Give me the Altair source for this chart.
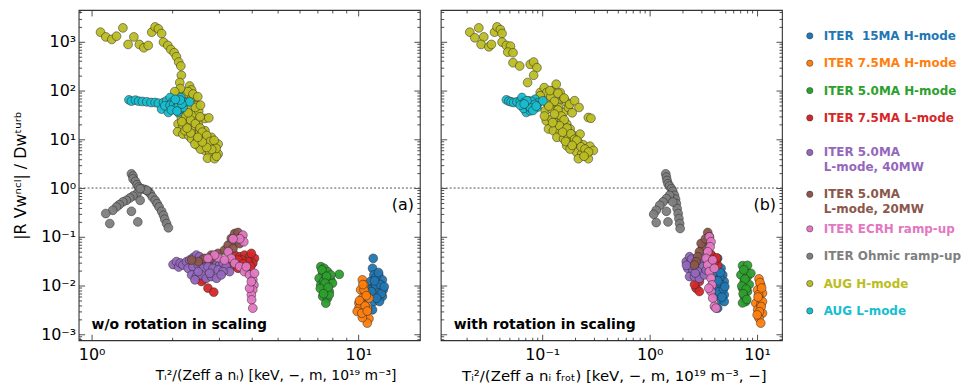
import altair as alt
import pandas as pd

# ---------------- categories / colours ----------------
SERIES = ["ITER\u00a0 15MA H-mode", "ITER 7.5MA H-mode", "ITER 5.0MA H-mode", "ITER 7.5MA L-mode",
          "ITER 5.0MA\nL-mode, 40MW", "ITER 5.0MA\nL-mode, 20MW", "ITER ECRH ramp-up",
          "ITER Ohmic ramp-up", "AUG H-mode", "AUG L-mode"]
COLORS = ["#1f77b4", "#ff7f0e", "#2ca02c", "#d62728", "#9467bd", "#8c564b",
          "#e377c2", "#7f7f7f", "#bcbd22", "#17becf"]

# ---------------- panel (a): w/o rotation ----------------
ITER15_A_X = [11.37, 11.3, 11.43, 11.92, 11.1, 11.8, 12.3, 11.3, 11.92, 12.4, 11.1, 11.8, 12.3, 11.43, 12.0,
              11.3, 11.6, 10.96, 11.6, 12.1, 11.2, 12.2, 11.7, 11.5, 12.5, 11.9]
ITER15_A_Y = [0.0361, 0.0226, 0.0165, 0.0165, 0.0121, 0.0121, 0.0131, 0.00883, 0.00883, 0.00817, 0.00646,
              0.00597, 0.00597, 0.00471, 0.00471, 0.00318, 0.0103, 0.00817, 0.0145, 0.0105, 0.0075, 0.0068,
              0.0055, 0.0125, 0.0095, 0.0185]
ITER75H_A_X = [10.35, 10.5, 10.2, 10.65, 10.35, 10.05, 10.5, 10.8, 10.2, 10.65, 10.96, 10.8, 10.05, 10.96,
               10.5, 9.9, 10.35, 10.4, 10.7, 10.1, 10.6, 10.3, 10.8]
ITER75H_A_Y = [0.0131, 0.0103, 0.00817, 0.00698, 0.00551, 0.00435, 0.00403, 0.00344, 0.00294, 0.00252,
               0.00209, 0.0017, 0.00344, 0.00551, 0.00817, 0.00294, 0.0022, 0.0105, 0.0062, 0.0049, 0.0038,
               0.0027, 0.0030]
ITER50H_A_X = [7.23, 7.44, 7.35, 7.66, 7.13, 7.55, 7.88, 7.23, 7.66, 8.0, 7.44, 7.78, 7.35, 7.66, 7.55, 8.48,
               7.88, 7.40, 7.78, 7.3, 7.6, 7.5, 7.2, 7.7, 7.4]
ITER50H_A_Y = [0.0244, 0.0226, 0.0179, 0.0193, 0.0141, 0.0141, 0.0131, 0.0103, 0.0103, 0.0112, 0.00817,
               0.00755, 0.00597, 0.00551, 0.00435, 0.017, 0.0165, 0.0121, 0.0065, 0.021, 0.0155, 0.0112,
               0.0087, 0.0092, 0.0068]
ITER75L_A_X = [3.44, 3.59, 3.74, 3.91, 4.08, 4.02, 3.86, 3.66, 3.54, 3.42, 3.54, 3.80, 2.73, 2.87, 2.62, 3.97,
               3.25, 3.7, 3.95, 2.58]
ITER75L_A_Y = [0.0422, 0.039, 0.0422, 0.039, 0.0361, 0.0286, 0.031, 0.0334, 0.0334, 0.0256, 0.0226, 0.0209,
               0.00883, 0.0073, 0.0131, 0.0457, 0.0286, 0.028, 0.025, 0.0121]
ITER50L40_A_X = [2.02, 2.08, 2.12, 2.15, 2.20, 2.27, 2.33, 2.40, 2.47, 2.54, 2.62, 2.69, 2.77, 2.85, 2.94,
                 3.02, 3.11, 3.20, 3.29, 2.30, 2.40, 2.51, 2.62, 2.73, 2.85, 2.98, 3.11, 2.37, 2.47, 2.58,
                 2.69, 2.81, 2.94, 3.06, 2.51, 2.77, 2.44]
ITER50L40_A_Y = [0.027, 0.031, 0.024, 0.029, 0.0264, 0.0309, 0.0334, 0.0373, 0.0422, 0.039, 0.035, 0.0319,
                 0.031, 0.0334, 0.0286, 0.0264, 0.0286, 0.0244, 0.0193, 0.0226, 0.0244, 0.0264, 0.0226,
                 0.0244, 0.0226, 0.0209, 0.0193, 0.0165, 0.0153, 0.0165, 0.0141, 0.0153, 0.0141, 0.0165,
                 0.0193, 0.0179, 0.0131]
ITER50L20_A_X = [2.66, 2.81, 2.98, 3.15, 3.25, 3.34, 3.44, 3.54, 3.64, 3.49, 3.39, 3.59, 2.51, 2.37, 2.81]
ITER50L20_A_Y = [0.0361, 0.0422, 0.0457, 0.0535, 0.0676, 0.0925, 0.117, 0.1226, 0.1, 0.079, 0.0578, 0.0725,
                 0.031, 0.0334, 0.0361]
ECRH_A_X = [3.69, 3.72, 3.59, 3.25, 3.34, 3.44, 3.59, 3.74, 3.91, 4.02, 4.06, 4.02, 3.97, 3.98, 4.02, 4.08,
            2.98, 3.15, 2.89, 3.39, 3.80, 3.91, 3.97, 2.73]
ECRH_A_Y = [0.108, 0.079, 0.091, 0.0494, 0.0361, 0.0286, 0.0244, 0.0193, 0.0165, 0.0131, 0.0103, 0.00817,
            0.00646, 0.0051, 0.00344, 0.0179, 0.0373, 0.0334, 0.0422, 0.091, 0.0244, 0.00883, 0.012, 0.036]
OHMIC_A_X = [1.41, 1.43, 1.43, 1.46, 1.48, 1.50, 1.54, 1.58, 1.63, 1.66, 1.69, 1.73, 1.76, 1.79, 1.83, 1.86,
             1.88, 1.91, 1.94, 1.48, 1.43, 1.39, 1.35, 1.31, 1.27, 1.24, 1.20, 1.13, 1.17, 1.49, 1.41, 1.52,
             1.61, 1.52]
OHMIC_A_Y = [1.96, 1.76, 1.55, 1.37, 1.17, 1.05, 0.97, 0.94, 0.855, 0.766, 0.655, 0.56, 0.479, 0.41, 0.334,
             0.277, 0.23, 0.187, 0.153, 0.766, 0.687, 0.625, 0.56, 0.518, 0.457, 0.41, 0.35, 0.30, 0.187,
             0.202, 0.334, 0.56, 0.9, 0.97]
AUGH_A_X = [1.08, 1.13, 1.19, 1.24, 1.31, 1.37, 1.44, 1.51, 1.57, 1.63, 1.68, 1.73, 1.78, 1.83, 1.86, 1.93,
            1.98, 2.04, 2.08, 2.12, 2.16, 2.17, 2.14, 2.33, 2.37, 2.12, 2.27, 2.44, 2.47, 2.14, 2.17, 2.27,
            2.37, 2.47, 2.11, 2.20, 2.30, 2.40, 2.51, 2.10, 2.20, 2.31, 2.44, 2.54, 2.66, 2.66, 2.75, 2.37,
            2.49, 2.60, 2.72, 2.81, 2.51, 2.62, 2.73, 2.85, 2.98, 2.66, 2.77, 2.89, 2.98, 2.72, 2.89, 2.94,
            2.56, 2.44, 2.24, 2.33, 2.24, 2.37, 2.33, 2.22, 2.40, 2.52,
            2.25, 2.35, 2.45, 2.55, 2.60, 2.70, 2.78, 2.88, 2.93, 2.82, 2.70, 2.60, 2.50, 2.35, 2.28,
            2.18, 2.30, 2.55, 2.45, 2.30, 2.40, 2.50, 2.56, 2.15, 2.05]
AUGH_A_Y = [1575, 1260, 1120, 1305, 1930, 883, 1260, 883, 755, 842, 1575, 2020, 1840, 1480, 985, 842,
            698, 597, 494, 385, 319, 206, 146, 124, 103, 91, 84, 57, 49, 57, 28, 26,
            28, 24, 20.6, 19, 16.3, 18.4, 20.6, 14.3, 12.8, 11.9, 12.8, 13.9, 15, 26.8, 27.5, 10.2,
            9.4, 10.5, 10.2, 11, 7.4, 7.7, 7.4, 7.7, 8.0, 5.9, 5.4, 5.9, 5.0, 4.1, 4.0, 4.5,
            6.3, 8.0, 15, 22, 57, 72, 42, 35, 33, 38,
            30, 25, 21, 17, 14, 12, 9, 9.5, 6.5, 6.2, 6.8, 8.8, 11, 13.5, 17,
            23, 35, 29, 45, 95, 85, 75, 50, 110, 95]
AUGL_A_X = [1.38, 1.41, 1.46, 1.50, 1.55, 1.61, 1.67, 1.73, 1.78, 1.83, 1.86, 1.91, 1.97, 2.0, 2.02, 1.94,
            2.08, 2.11, 2.16, 2.24, 2.11, 2.05, 1.88, 2.0, 2.14, 2.33, 2.20, 1.97,
            2.03, 2.07, 2.12, 2.18, 1.99, 2.09, 2.15, 2.06]
AUGL_A_Y = [64.5, 60.6, 63.5, 60.6, 59.7, 58.7, 56.9, 56.9, 55.1, 41.6, 57, 61.5, 72, 57, 41.6, 35.6,
            48.7, 61.5, 72, 57, 35.6, 57, 48.7, 45, 41.6, 58.7, 45, 50,
            52, 44, 50, 53, 40, 38, 64, 66]

# ---------------- panel (b): with rotation ----------------
ITER15_B_X = [4.29, 4.14, 4.61, 4.29, 4.78, 4.45, 4.94, 4.29, 4.78, 4.45, 4.94, 4.61, 4.29, 4.94, 4.14,
              4.5, 4.6, 4.4, 4.85, 4.7, 4.3, 5.0, 4.55]
ITER15_B_Y = [0.0361, 0.0264, 0.0226, 0.0179, 0.0165, 0.0131, 0.0121, 0.0095, 0.00883, 0.00698, 0.00646,
              0.0051, 0.00344, 0.0047, 0.0065, 0.0145, 0.0105, 0.0075, 0.0085, 0.0058, 0.0125, 0.0095, 0.0185]
ITER75H_B_X = [10.4, 10.8, 10.1, 11.2, 10.4, 9.72, 10.8, 10.1, 11.2, 10.4, 10.8, 11.2, 10.3, 10.6, 10.2,
               10.9, 10.5, 10.0, 11.0]
ITER75H_B_Y = [0.0137, 0.0103, 0.00817, 0.00698, 0.00551, 0.00435, 0.00403, 0.00318, 0.00272, 0.00215,
               0.0017, 0.0047, 0.0065, 0.0115, 0.0058, 0.0037, 0.0029, 0.0025, 0.0089]
ITER50H_B_X = [7.31, 7.85, 7.06, 8.13, 7.58, 8.43, 7.31, 8.13, 7.58, 7.85, 7.31, 8.73, 8.13, 7.5, 7.7, 7.2,
               7.9, 7.4, 8.0]
ITER50H_B_Y = [0.0256, 0.0209, 0.0165, 0.0153, 0.0121, 0.0105, 0.00883, 0.00755, 0.00597, 0.00471, 0.0044,
               0.0178, 0.026, 0.021, 0.0135, 0.0098, 0.0085, 0.0068, 0.0052]
ITER75L_B_X = [3.86, 4.14, 4.29, 4.0, 2.90, 2.70, 2.90, 2.61, 3.83, 3.7, 4.2]
ITER75L_B_Y = [0.039, 0.0334, 0.0264, 0.031, 0.0121, 0.00883, 0.00755, 0.0105, 0.034, 0.044, 0.037]
ITER50L40_B_X = [2.19, 2.35, 2.52, 2.70, 2.90, 3.12, 2.26, 2.52, 2.80, 2.35, 2.61, 2.90, 3.23, 3.35, 2.43,
                 3.01, 2.45, 2.65, 2.20]
ITER50L40_B_Y = [0.0309, 0.039, 0.0334, 0.0264, 0.0309, 0.0244, 0.0226, 0.0209, 0.0193, 0.0153, 0.0153,
                 0.0141, 0.0165, 0.0209, 0.0264, 0.039, 0.035, 0.018, 0.026]
ITER50L20_B_X = [3.47, 3.59, 3.35, 3.12, 2.90, 2.80, 2.70, 3.01, 3.30, 2.61]
ITER50L20_B_Y = [0.1226, 0.1, 0.079, 0.0625, 0.0494, 0.039, 0.0309, 0.073, 0.091, 0.0264]
ECRH_B_X = [3.59, 3.72, 3.65, 3.47, 3.35, 3.47, 3.59, 3.72, 3.80, 3.72, 3.86, 4.0, 4.14, 3.86, 4.0, 3.55]
ECRH_B_Y = [0.1, 0.079, 0.0625, 0.0494, 0.0361, 0.0264, 0.0193, 0.0141, 0.0103, 0.00755, 0.00551, 0.00373,
            0.00344, 0.0334, 0.0226, 0.0088]
OHMIC_B_X = [1.41, 1.43, 1.45, 1.48, 1.53, 1.59, 1.64, 1.70, 1.74, 1.77, 1.80, 1.84, 1.87, 1.90, 1.92, 1.53,
             1.43, 1.33, 1.24, 1.15, 1.09, 1.15, 1.48, 1.43, 1.64]
OHMIC_B_Y = [1.96, 1.68, 1.43, 1.23, 1.1, 0.97, 0.855, 0.71, 0.59, 0.48, 0.38, 0.3, 0.237, 0.187, 0.148, 0.71,
             0.606, 0.518, 0.443, 0.35, 0.29, 0.196, 0.202, 0.334, 0.518]
AUGH_B_X = [0.0212, 0.0236, 0.0257, 0.0286, 0.0270, 0.0319, 0.0337, 0.0360, 0.038, 0.0408, 0.0423, 0.0423,
            0.0464, 0.0506, 0.0478, 0.0535, 0.0535, 0.0617, 0.0774, 0.0832, 0.0893, 0.0832, 0.0731, 0.0958,
            0.1044, 0.110, 0.123, 0.135, 0.147, 0.158, 0.169, 0.137, 0.110, 0.1066, 0.123, 0.1417, 0.158,
            0.175, 0.109, 0.123, 0.137, 0.152, 0.169, 0.1145, 0.127, 0.147, 0.163, 0.1817, 0.2685, 0.284,
            0.137, 0.158, 0.175, 0.195, 0.225, 0.169, 0.195, 0.217, 0.2415, 0.278, 0.299, 0.2095, 0.233,
            0.259, 0.217, 0.2685, 0.182, 0.0958,
            0.12, 0.13, 0.115, 0.14, 0.15, 0.13, 0.16, 0.145, 0.17, 0.155, 0.185, 0.2, 0.165, 0.21,
            0.23, 0.25, 0.27, 0.245, 0.19, 0.125, 0.105, 0.118, 0.14, 0.16, 0.18, 0.2, 0.22, 0.19]
AUGH_B_Y = [1575, 1210, 1930, 1260, 883, 790, 883, 1575, 2020, 1780, 1480, 985,
            842, 815, 615, 597, 373, 319, 345, 385, 295, 206, 146, 91,
            115, 91, 98, 135, 91, 66.5, 57, 57, 57, 38.5, 41.6, 45, 35.6,
            45, 24, 26, 22, 24, 20.6, 16.3, 15, 13.9, 15, 16.3, 28, 27,
            11, 10.2, 11, 11.9, 12.8, 7.4, 7.9, 8.7, 7.7, 7.2, 5.9, 5.4, 5.0,
            4.8, 4.0, 4.0, 6.3, 78,
            75, 60, 48, 40, 30, 33, 25, 19, 17, 14, 13, 10, 9, 9.5,
            7, 6.3, 5.5, 4.5, 7.5, 22, 30, 100, 88, 70, 52, 62, 45, 35]
AUGL_B_X = [0.0464, 0.0488, 0.0513, 0.0543, 0.0582, 0.0625, 0.0648, 0.068, 0.0721, 0.0747, 0.0774, 0.0802,
            0.0832, 0.0861, 0.0711, 0.0774, 0.0893, 0.0925, 0.1014, 0.0671, 0.0625,
            0.07, 0.075, 0.08, 0.085, 0.078, 0.082, 0.088, 0.072, 0.068]
AUGL_B_Y = [64.5, 60.6, 58.7, 56.9, 58.7, 61.5, 72, 57, 48.7, 61.5, 53, 41.6,
            57, 66.5, 35.6, 38.5, 45, 57, 61.5, 43, 50,
            55, 47, 60, 52, 44, 39, 48, 62, 53]

A_SETS = [(ITER15_A_X, ITER15_A_Y), (ITER75H_A_X, ITER75H_A_Y), (ITER50H_A_X, ITER50H_A_Y),
          (ITER75L_A_X, ITER75L_A_Y), (ITER50L40_A_X, ITER50L40_A_Y), (ITER50L20_A_X, ITER50L20_A_Y),
          (ECRH_A_X, ECRH_A_Y), (OHMIC_A_X, OHMIC_A_Y), (AUGH_A_X, AUGH_A_Y), (AUGL_A_X, AUGL_A_Y)]
B_SETS = [(ITER15_B_X, ITER15_B_Y), (ITER75H_B_X, ITER75H_B_Y), (ITER50H_B_X, ITER50H_B_Y),
          (ITER75L_B_X, ITER75L_B_Y), (ITER50L40_B_X, ITER50L40_B_Y), (ITER50L20_B_X, ITER50L20_B_Y),
          (ECRH_B_X, ECRH_B_Y), (OHMIC_B_X, OHMIC_B_Y), (AUGH_B_X, AUGH_B_Y), (AUGL_B_X, AUGL_B_Y)]

Y_LABELS = [1e-3, 1e-2, 1e-1, 1, 10, 100, 1000]
XA_LABELS = [1, 10]
XB_LABELS = [0.1, 1, 10]


def frame(sets):
    rows = []
    for name, (xs, ys) in zip(SERIES, sets):
        for x, y in zip(xs, ys):
            rows.append({"x": x, "y": y, "s": name})
    return pd.DataFrame(rows)


def log_ticks(lo, hi):
    return [m * 10.0 ** e for e in range(-4, 5) for m in range(1, 10) if lo <= m * 10.0 ** e <= hi]


FONT = "DejaVu Sans"
W, H = 343, 332
YDOM = [10 ** -3.122, 10 ** 3.653]
XA_DOM = [0.894, 17.0]
XB_DOM = [0.01137, 17.0]

SUP = ("'10' + (datum.value < 1 ? '\u207b' : '') + "
       "['\u2070','\u00b9','\u00b2','\u00b3','\u2074'][abs(round(log(datum.value)/LN10))]")
MAJOR = "abs(log(datum.value)/LN10 - round(log(datum.value)/LN10)) < 0.01"
TICKSIZE = {"condition": {"test": MAJOR, "value": 6}, "value": 3}

color_scale = alt.Scale(domain=SERIES, range=COLORS)


def tick_axis(orient, offset, values):
    return alt.Axis(orient=orient, offset=offset, values=values, labels=False, domain=False,
                    grid=False, title=None, tickSize=TICKSIZE, tickColor="#222", tickWidth=0.8)


def panel(df, xdom, xlabels, xtitle, xtitle_x, xtitle_size, ylabels, tag, note):
    xs = alt.Scale(type="log", domain=xdom, nice=False)
    ys = alt.Scale(type="log", domain=YDOM, nice=False)
    xticks = log_ticks(xdom[0], xdom[1])
    yticks = log_ticks(YDOM[0], YDOM[1])
    if ylabels:
        yaxis = alt.Axis(orient="left", values=Y_LABELS, labelExpr=SUP, ticks=False, domain=False,
                         grid=False, labelFontSize=16, labelFont=FONT, labelPadding=3,
                         title="|R Vw\u207f\u1d9c\u02e1| / Dw\u1d57\u1d58\u02b3\u1d47",
                         titleFont=FONT, titleFontSize=16, titleFontWeight="normal", titlePadding=12)
    else:
        yaxis = alt.Axis(orient="left", values=Y_LABELS, labels=False, ticks=False, domain=False,
                         grid=False, title=None)
    xaxis = alt.Axis(orient="bottom", values=xlabels, labelExpr=SUP, ticks=False, domain=False,
                     grid=False, labelFontSize=16, labelFont=FONT, labelPadding=6,
                     title=xtitle, titleFont=FONT, titleFontSize=xtitle_size, titleFontWeight="normal",
                     titlePadding=6, titleX=xtitle_x)

    pts = alt.Chart(df).mark_circle(size=78, stroke="#2a2a2a", strokeWidth=0.55, opacity=0.95).encode(
        x=alt.X("x:Q", scale=xs, axis=xaxis),
        y=alt.Y("y:Q", scale=ys, axis=yaxis),
        color=alt.Color("s:N", scale=color_scale, legend=None),
    )
    ghost1 = alt.Chart(df).mark_point(opacity=0).encode(
        x=alt.X("x:Q", axis=tick_axis("top", -H, xticks)),
        y=alt.Y("y:Q", axis=tick_axis("right", -W, yticks)),
    )
    ghost2 = alt.Chart(df).mark_point(opacity=0).encode(
        x=alt.X("x:Q", axis=tick_axis("bottom", -H, xticks)),
        y=alt.Y("y:Q", axis=tick_axis("left", -W, yticks)),
    )
    ref = alt.Chart(pd.DataFrame({"v": [1.0]})).mark_rule(
        color="#555", strokeDash=[2, 2], strokeWidth=1).encode(y=alt.Y("v:Q", axis=None))
    tagtxt = alt.Chart(pd.DataFrame({"t": [tag]})).mark_text(
        align="right", baseline="middle", fontSize=16, font=FONT, color="black").encode(
        text="t:N", x=alt.value(W - 6), y=alt.value(196))
    notetxt = alt.Chart(pd.DataFrame({"t": [note]})).mark_text(
        align="left", baseline="middle", fontSize=14, font=FONT, fontWeight="bold", color="black").encode(
        text="t:N", x=alt.value(13), y=alt.value(317))
    return alt.layer(ref, pts, ghost1, ghost2, tagtxt, notetxt).resolve_axis(
        x="independent", y="independent").properties(
        width=W, height=H, view=alt.ViewBackground(stroke="#333", strokeWidth=1.1))


XA_TITLE = "T\u1d62\u00b2/(Zeff a n\u1d62) [keV, \u2212, m, 10\u00b9\u2079 m\u207b\u00b3]"
XB_TITLE = "T\u1d62\u00b2/(Zeff a n\u1d62 f\u1d63\u2092\u209c) [keV, \u2212, m, 10\u00b9\u2079 m\u207b\u00b3, \u2212]"

pa = panel(frame(A_SETS), XA_DOM, XA_LABELS, XA_TITLE, 198, 14, True, "(a)", "w/o rotation in scaling")
pb = panel(frame(B_SETS), XB_DOM, XB_LABELS, XB_TITLE, 174, 15, False, "(b)", "with rotation in scaling")

leg_df = pd.DataFrame({"label": SERIES, "idx": list(range(len(SERIES)))})
leg_base = alt.Chart(leg_df).transform_calculate(
    h="indexof(datum.label, '\\n') >= 0 ? 42 : 27.5"
).transform_window(
    cum="sum(h)", sort=[alt.SortField("idx")]
).transform_calculate(
    cy="12.25 + datum.cum - datum.h / 2"
)
yl = alt.Y("cy:Q", scale=alt.Scale(domain=[0, H], reverse=True), axis=None)
leg_dots = leg_base.mark_circle(size=40, stroke="#333", strokeWidth=0.5, opacity=1).encode(
    x=alt.value(8), y=yl, color=alt.Color("label:N", scale=color_scale, legend=None))
leg_text = leg_base.mark_text(align="left", baseline="middle", fontSize=12, font=FONT,
                              fontWeight="bold", lineBreak="\n", lineHeight=15).encode(
    x=alt.value(22), y=yl, text="label:N",
    color=alt.Color("label:N", scale=color_scale, legend=None))
legend = alt.layer(leg_dots, leg_text).properties(
    width=150, height=H, view=alt.ViewBackground(stroke="transparent"))

chart = alt.hconcat(pa, pb, legend, spacing=17).properties(
    padding={"left": 4, "top": 0, "right": 0, "bottom": 0}
).configure_view(stroke="#333")

chart.save("out.html", embed_options={"renderer": "svg", "actions": False})
